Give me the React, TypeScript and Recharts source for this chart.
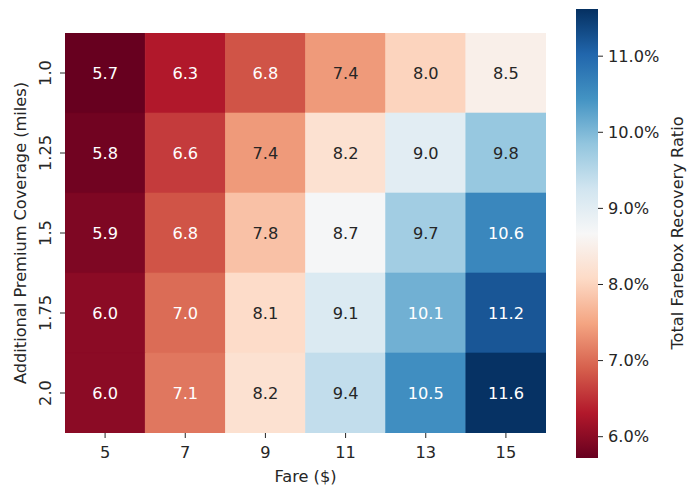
import React from "react";
import { ScatterChart, Scatter, XAxis, YAxis, BarChart, Bar } from "recharts";

const FARES = ["5", "7", "9", "11", "13", "15"];
const COVERAGE = ["1.0", "1.25", "1.5", "1.75", "2.0"];

// farebox recovery ratio (%), one row per coverage level
const ROW_1_0 = [5.7, 6.3, 6.8, 7.4, 8.0, 8.5];
const ROW_1_25 = [5.8, 6.6, 7.4, 8.2, 9.0, 9.8];
const ROW_1_5 = [5.9, 6.8, 7.8, 8.7, 9.7, 10.6];
const ROW_1_75 = [6.0, 7.0, 8.1, 9.1, 10.1, 11.2];
const ROW_2_0 = [6.0, 7.1, 8.2, 9.4, 10.5, 11.6];
const RATIO_ROWS = [ROW_1_0, ROW_1_25, ROW_1_5, ROW_1_75, ROW_2_0];

const COLOR_MIN = 5.72;
const COLOR_MAX = 11.62;
const CBAR_TICKS = [6, 7, 8, 9, 10, 11];

const W = 694;
const H = 487;
const FONT = "DejaVu Sans, sans-serif";
const FS = 16.2;
const INK = "#262626";

// heatmap plot box
const PLOT = { left: 65, right: 546, top: 33, bottom: 433 };
const CELL_W = (PLOT.right - PLOT.left) / FARES.length;
const CELL_H = (PLOT.bottom - PLOT.top) / COVERAGE.length;

const RDBU = [
  "#67001f", "#b2182b", "#d6604d", "#f4a582", "#fddbc7", "#f7f7f7",
  "#d1e5f0", "#92c5de", "#4393c3", "#2166ac", "#053061",
];

const hex = (h: string) => [1, 3, 5].map((i) => parseInt(h.slice(i, i + 2), 16));

function rdbu(v: number): [number, number, number] {
  const t = Math.min(1, Math.max(0, (v - COLOR_MIN) / (COLOR_MAX - COLOR_MIN)));
  const pos = t * (RDBU.length - 1);
  const i = Math.min(RDBU.length - 2, Math.floor(pos));
  const f = pos - i;
  const a = hex(RDBU[i]);
  const b = hex(RDBU[i + 1]);
  return [0, 1, 2].map((k) => Math.round(a[k] + (b[k] - a[k]) * f)) as [number, number, number];
}

const rgb = (c: number[]) => `rgb(${c[0]},${c[1]},${c[2]})`;

function luminance(c: number[]) {
  const lin = c.map((x) => {
    const s = x / 255;
    return s <= 0.03928 ? s / 12.92 : Math.pow((s + 0.055) / 1.055, 2.4);
  });
  return 0.2126 * lin[0] + 0.7152 * lin[1] + 0.0722 * lin[2];
}

const cells = RATIO_ROWS.flatMap((row, r) => row.map((v, c) => ({ col: c, row: r, v })));

const HeatCell = (props: any) => {
  const { cx, cy, payload } = props;
  const c = rdbu(payload.v);
  const fill = rgb(c);
  return (
    <g>
      <rect
        x={cx - CELL_W / 2}
        y={cy - CELL_H / 2}
        width={CELL_W}
        height={CELL_H}
        fill={fill}
        stroke={fill}
        strokeWidth={0.6}
      />
      <text
        x={cx}
        y={cy}
        textAnchor="middle"
        dominantBaseline="central"
        fontFamily={FONT}
        fontSize={FS}
        fill={luminance(c) > 0.4 ? INK : "#ffffff"}
      >
        {payload.v.toFixed(1)}
      </text>
    </g>
  );
};

const RotatedTick = (props: any) => {
  const { x, y, payload } = props;
  return (
    <text
      x={x}
      y={y}
      transform={`rotate(-90, ${x}, ${y})`}
      textAnchor="middle"
      fontFamily={FONT}
      fontSize={FS}
      fill={INK}
    >
      {COVERAGE[payload.value]}
    </text>
  );
};

const cbarData = [{ name: "ratio", range: [COLOR_MIN, COLOR_MAX] }];

export default function App() {
  return (
    <div style={{ position: "absolute", left: 0, top: 0, width: W, height: H, background: "#fff" }}>
      <div style={{ position: "absolute", left: 0, top: 0 }}>
        <ScatterChart
          width={W}
          height={H}
          margin={{ top: PLOT.top, right: W - PLOT.right, bottom: H - PLOT.bottom - 30, left: PLOT.left - 40 }}
        >
          <XAxis
            type="number"
            dataKey="col"
            domain={[-0.5, FARES.length - 0.5]}
            ticks={FARES.map((_, i) => i)}
            tickFormatter={(i: number) => FARES[i]}
            height={30}
            axisLine={false}
            tickSize={5}
            tickMargin={8}
            tickLine={{ stroke: INK }}
            tick={{ fill: INK, fontSize: FS, fontFamily: FONT }}
            allowDataOverflow
          />
          <YAxis
            type="number"
            dataKey="row"
            reversed
            domain={[-0.5, COVERAGE.length - 0.5]}
            ticks={COVERAGE.map((_, i) => i)}
            width={40}
            axisLine={false}
            tickSize={5}
            tickMargin={9}
            tickLine={{ stroke: INK }}
            tick={<RotatedTick />}
            allowDataOverflow
          />
          <Scatter data={cells} shape={<HeatCell />} isAnimationActive={false} />
          <text
            x={(PLOT.left + PLOT.right) / 2}
            y={476}
            textAnchor="middle"
            dominantBaseline="central"
            fontFamily={FONT}
            fontSize={FS}
            fill={INK}
          >
            Fare ($)
          </text>
          <text
            x={20}
            y={(PLOT.top + PLOT.bottom) / 2}
            transform={`rotate(-90, 20, ${(PLOT.top + PLOT.bottom) / 2})`}
            textAnchor="middle"
            dominantBaseline="central"
            fontFamily={FONT}
            fontSize={FS}
            fill={INK}
          >
            Additional Premium Coverage (miles)
          </text>
        </ScatterChart>
      </div>
      <div style={{ position: "absolute", left: 0, top: 0 }}>
        <BarChart
          width={W}
          height={H}
          data={cbarData}
          barCategoryGap={0}
          margin={{ top: 9, right: W - 598 - 60, bottom: 29, left: 576 }}
        >
          <defs>
            <linearGradient id="rdbuGrad" x1="0" y1="1" x2="0" y2="0">
              {RDBU.map((c, i) => (
                <stop key={i} offset={`${(i / (RDBU.length - 1)) * 100}%`} stopColor={c} />
              ))}
            </linearGradient>
          </defs>
          <XAxis dataKey="name" hide />
          <YAxis
            orientation="right"
            type="number"
            domain={[COLOR_MIN, COLOR_MAX]}
            ticks={CBAR_TICKS}
            tickFormatter={(v: number) => `${v.toFixed(1)}%`}
            width={60}
            axisLine={false}
            tickSize={5}
            tickMargin={5}
            tickLine={{ stroke: INK }}
            tick={{ fill: INK, fontSize: FS, fontFamily: FONT }}
            allowDataOverflow
          />
          <Bar dataKey="range" fill="url(#rdbuGrad)" isAnimationActive={false} />
          <text
            x={677}
            y={233}
            transform="rotate(-90, 677, 233)"
            textAnchor="middle"
            dominantBaseline="central"
            fontFamily={FONT}
            fontSize={FS}
            fill={INK}
          >
            Total Farebox Recovery Ratio
          </text>
        </BarChart>
      </div>
    </div>
  );
}
